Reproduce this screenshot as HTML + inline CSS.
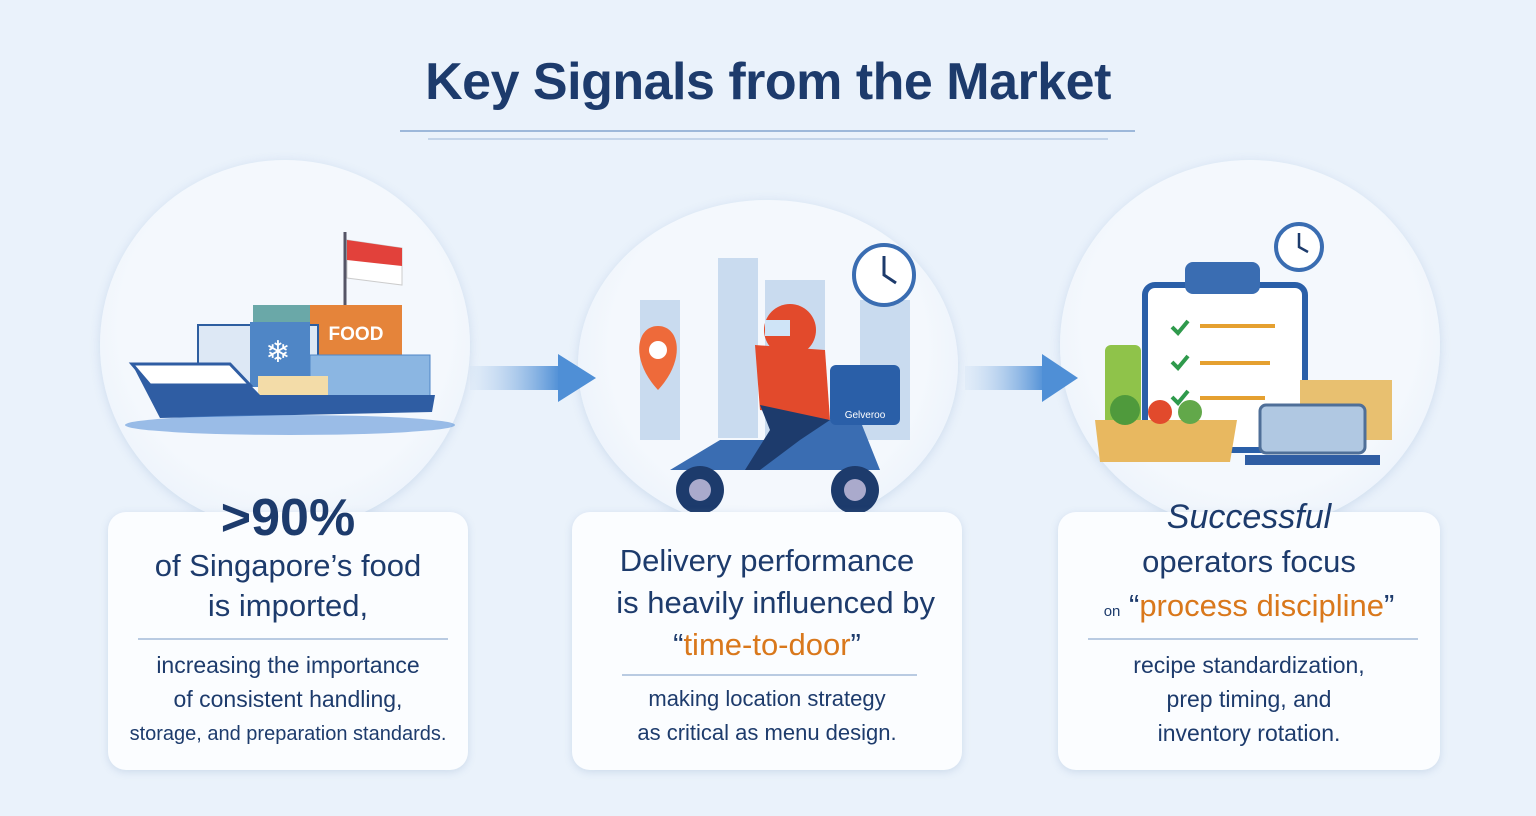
<!DOCTYPE html>
<html><head><meta charset="utf-8"><style>
body{margin:0;width:1536px;height:816px;background:#eaf2fb;overflow:hidden;font-family:"Liberation Sans",sans-serif;position:relative}
.t{position:absolute;left:0;width:1536px;top:52px;text-align:center;font-size:52px;font-weight:bold;color:#1d3b6c;letter-spacing:-0.5px}
.card{position:absolute;top:512px;height:258px;background:#fbfdff;border-radius:18px;box-shadow:0 2px 8px rgba(120,150,190,.25);text-align:center;color:#1d3b6c}
.circ{position:absolute;border-radius:50%;background:radial-gradient(circle at 50% 45%,#f4f8fd 60%,#e2ecf8 100%);box-shadow:0 2px 10px rgba(140,170,210,.3)}
.hr{position:absolute;height:1.5px;background:#b9cbe2}
.big{font-weight:bold}
.o{color:#d9781c}
.s{position:absolute;left:0;right:0;font-size:23px;line-height:34px}
</style></head><body>
<div class="t">Key Signals from the Market</div>
<div class="hr" style="left:400px;width:735px;top:130px;background:#9db8da"></div>
<div class="hr" style="left:428px;width:680px;top:138px;background:#c4d5ea"></div>

<div class="circ" style="left:100px;top:160px;width:370px;height:370px"></div>
<div class="circ" style="left:578px;top:200px;width:380px;height:330px"></div>
<div class="circ" style="left:1060px;top:160px;width:380px;height:370px"></div>

<svg style="position:absolute;left:0;top:0" width="1536" height="816">
<defs><linearGradient id="ag" x1="0" x2="1"><stop offset="0" stop-color="#cfe0f3" stop-opacity=".3"/><stop offset="1" stop-color="#4f8fd6"/></linearGradient></defs>
<rect x="470" y="366" width="90" height="24" fill="url(#ag)"/><polygon points="558,354 596,378 558,402" fill="#4f8fd6"/>
<rect x="965" y="366" width="80" height="24" fill="url(#ag)"/><polygon points="1042,354 1078,378 1042,402" fill="#4f8fd6"/>
<!-- ship -->
<line x1="345" y1="232" x2="345" y2="305" stroke="#556" stroke-width="3"/>
<path d="M347 240 L402 248 L402 285 L347 278Z" fill="#fff" stroke="#ccc"/><path d="M347 240 L402 248 L402 266 L347 260Z" fill="#e2413b"/>
<rect x="253" y="305" width="60" height="40" fill="#6aa8a8"/>
<rect x="310" y="305" width="92" height="50" fill="#e5843a"/><text x="356" y="340" font-size="19" font-weight="bold" fill="#fff" text-anchor="middle">FOOD</text>
<rect x="198" y="325" width="120" height="60" fill="#dde8f5" stroke="#2d5ea0" stroke-width="2"/>
<rect x="250" y="322" width="60" height="65" fill="#4f86c6"/><text x="278" y="362" font-size="30" fill="#fff" text-anchor="middle">❄</text>
<rect x="310" y="355" width="120" height="42" fill="#8bb6e2" stroke="#4f86c6"/>
<rect x="258" y="376" width="70" height="20" fill="#f3dca8"/>
<path d="M132 364 L230 364 L260 395 L435 395 L432 412 L160 418Z" fill="#2f5da3"/>
<path d="M132 364 L230 364 L250 385 L150 385Z" fill="#fff" stroke="#2f5da3" stroke-width="3"/>
<ellipse cx="290" cy="425" rx="165" ry="10" fill="#5d95d8" opacity=".6"/>
<!-- delivery -->
<g fill="#c9dbef"><rect x="718" y="258" width="40" height="180"/><rect x="765" y="280" width="60" height="160"/><rect x="640" y="300" width="40" height="140"/><rect x="860" y="300" width="50" height="140"/></g>
<circle cx="884" cy="275" r="30" fill="#fff" stroke="#3a6db2" stroke-width="4"/><path d="M884 256 L884 275 L896 283" stroke="#1d3b6c" stroke-width="3" fill="none"/>
<path d="M658 390 C630 360 636 326 658 326 C680 326 686 360 658 390Z" fill="#ee6a3a"/><circle cx="658" cy="350" r="9" fill="#fff"/>
<path d="M670 470 L720 440 L790 440 L800 420 L860 420 L880 470 Z" fill="#3a6db2"/>
<circle cx="700" cy="490" r="24" fill="#1d3b6c"/><circle cx="700" cy="490" r="11" fill="#aac"/>
<circle cx="855" cy="490" r="24" fill="#1d3b6c"/><circle cx="855" cy="490" r="11" fill="#aac"/>
<rect x="830" y="365" width="70" height="60" rx="6" fill="#2a5fa8"/><text x="865" y="418" font-size="10" fill="#fff" text-anchor="middle">Gelveroo</text>
<path d="M755 345 L825 350 L830 420 L760 410Z" fill="#e24a2c"/>
<path d="M760 405 L830 420 L800 440 L760 470 L745 470 L770 430Z" fill="#1d3b6c"/>
<circle cx="790" cy="330" r="26" fill="#e24a2c"/><rect x="765" y="320" width="25" height="16" fill="#cfe4f7"/>
<!-- process -->
<circle cx="1299" cy="247" r="23" fill="#fff" stroke="#3a6db2" stroke-width="4"/><path d="M1299 233 L1299 247 L1308 252" stroke="#1d3b6c" stroke-width="2.5" fill="none"/>
<rect x="1145" y="285" width="160" height="165" rx="10" fill="#fff" stroke="#2a5fa8" stroke-width="6"/>
<rect x="1185" y="262" width="75" height="32" rx="8" fill="#3a6db2"/>
<g stroke="#e5a030" stroke-width="4"><line x1="1200" y1="326" x2="1275" y2="326"/><line x1="1200" y1="363" x2="1270" y2="363"/><line x1="1200" y1="398" x2="1265" y2="398"/></g>
<g fill="none" stroke="#2f9a4c" stroke-width="4"><path d="M1172 327 l6 6 l10 -12"/><path d="M1172 362 l6 6 l10 -12"/><path d="M1172 397 l6 6 l10 -12"/></g>
<rect x="1300" y="380" width="92" height="60" fill="#e8c070"/>
<rect x="1105" y="345" width="36" height="80" rx="6" fill="#8fc34a"/>
<path d="M1095 420 L1237 420 L1230 462 L1100 462Z" fill="#e8b860"/>
<circle cx="1125" cy="410" r="15" fill="#4f9a3c"/><circle cx="1160" cy="412" r="12" fill="#e24a2c"/><circle cx="1190" cy="412" r="12" fill="#62a84a"/>
<rect x="1260" y="405" width="105" height="48" rx="6" fill="#b0c8e2" stroke="#4f6f98" stroke-width="3"/>
<rect x="1245" y="455" width="135" height="10" fill="#2f5da3"/>
</svg>

<div class="card" style="left:108px;width:360px">
 <div class="s big" style="top:-24px;font-size:52px;line-height:60px">&gt;90%</div>
 <div class="s" style="top:34px;font-size:31px;line-height:40px">of Singapore’s food<br>is imported,</div>
 <div class="hr" style="left:30px;width:310px;top:126px"></div>
 <div class="s" style="top:136px">increasing the importance<br>of consistent handling,</div>
 <div class="s" style="top:205px;font-size:20px">storage, and preparation standards.</div>
</div>
<div class="card" style="left:572px;width:390px">
 <div class="s" style="top:28px;font-size:31px;line-height:42px">Delivery performance<br>&nbsp;&nbsp;is heavily influenced by<br>“<span class="o">time-to-door</span>”</div>
 <div class="hr" style="left:50px;width:295px;top:162px"></div>
 <div class="s" style="top:170px;font-size:22px">making location strategy<br>as critical as menu design.</div>
</div>
<div class="card" style="left:1058px;width:382px">
 <div class="s" style="top:-18px;font-size:34px;line-height:46px;font-style:italic">Successful</div>
 <div class="s" style="top:28px;font-size:31px;line-height:44px">operators focus<br><span style="font-size:15px">on</span> “<span class="o">process discipline</span>”</div>
 <div class="hr" style="left:30px;width:330px;top:126px"></div>
 <div class="s" style="top:136px;font-size:23px">recipe standardization,<br>prep timing, and<br>inventory rotation.</div>
</div>
</body></html>
